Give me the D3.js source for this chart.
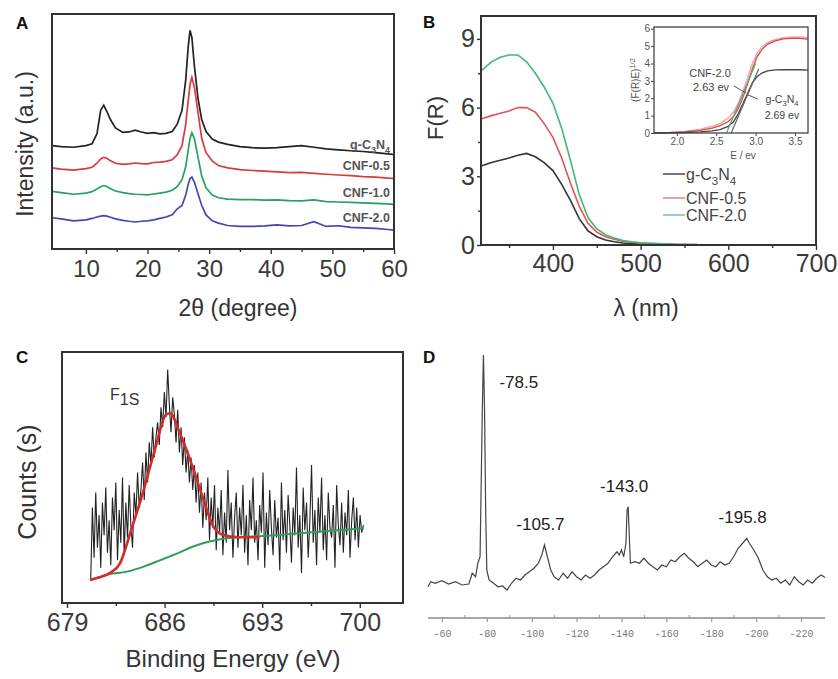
<!DOCTYPE html>
<html><head><meta charset="utf-8">
<script src="https://cdn.jsdelivr.net/npm/d3@7"></script>
<style>body{margin:0;background:#fff}svg{display:block}</style>
</head><body><svg id="chart"></svg>
<script>
// ===== Panel A: XRD =====
const xrdAngle = [4.5,6,8,10,11,11.8,12.4,12.9,13.4,14,14.8,16,17,18,19,20,21,22,23,24,24.8,25.6,26.2,26.6,26.9,27.2,27.6,28.2,28.8,29.5,30.5,31.5,33,35,37,39,41,43,45,47,49,51,53,55,57,59,60];
const xrdGC3N4 = [44,43.6,43.3,44,44.8,49,59,61.2,58.5,55,51.5,49.6,49.8,50.6,49.8,49.2,49.5,49,49.2,50,53,59,72,86,93,90,78,64,55,50,46.8,45.5,44.5,43.6,43.1,42.9,43.1,43.6,44,43.3,42.6,42.2,41.8,41.5,41,40.5,40.2];
const xrdCNF05 = [34.5,34,33.6,34.2,34.8,36.5,38.3,39,38.6,37.5,36.5,36,36.2,36.6,36.3,36.2,36.8,37,37.3,38,40,44,53,63,70,73,69,58,47,41,37.5,35.5,34.5,33.8,33.4,33.1,32.8,32.5,32.6,32.2,31.8,31.5,31.2,30.8,30.6,30.2,30];
const xrdCNF10 = [24.5,24,23.3,23.8,24.4,25.5,26.5,27,26.6,25.6,24.7,24,23.6,23.3,23.2,23,23.4,23.8,24.2,25,26.5,29.5,35,42,47,49.5,47,39,31,26,23,21.8,21.2,21,21,20.8,20.9,20.6,20.5,20.9,20.2,20,19.8,19.6,19.4,19.2,19];
const xrdCNF20 = [13.3,12.8,12,12.4,13,13.6,14,14.2,14,13.5,12.8,12.2,11.8,11.5,11.8,12,12.4,13,13.6,14.6,17,18.5,23,27.5,30,30.6,28.5,23.5,18.5,14.5,12,11,10,9.6,9.6,9.8,10.3,9.8,10,11.6,9.6,9.9,9.2,9,8.8,8.3,8];
const xrdTicks = [10,20,30,40,50,60];
const xrdMinor = [15,25,35,45,55];

// ===== Panel B: DRS =====
const drsLambda = [318,330,340,350,360,370,380,390,400,410,420,430,440,450,460,470,480,490,500,520,540,565];
const drsGC3N4 = [3.45,3.6,3.7,3.8,3.92,4.0,3.85,3.6,3.25,2.65,1.95,1.15,0.62,0.36,0.22,0.14,0.09,0.06,0.04,0.02,0.01,0.01];
const drsCNF05 = [5.5,5.65,5.75,5.85,6.0,6.0,5.8,5.3,4.7,3.8,2.7,1.7,0.95,0.56,0.36,0.25,0.17,0.12,0.08,0.05,0.03,0.02];
const drsCNF20 = [7.6,8.0,8.2,8.3,8.3,8.0,7.5,6.9,6.2,5.1,3.7,2.2,1.2,0.7,0.45,0.3,0.2,0.14,0.1,0.06,0.03,0.02];
const drsXTicks = [400,500,600,700];
const drsXMinor = [350,450,550,650];
const drsYTicks = [0,3,6,9];
const drsYMinor = [1.5,4.5,7.5];
// inset (Tauc)
const taucE = [1.71,1.9,2.1,2.3,2.45,2.55,2.65,2.72,2.78,2.84,2.9,2.96,3.02,3.08,3.15,3.25,3.35,3.45,3.55,3.665];
const taucGC3N4 = [0,0.01,0.03,0.07,0.12,0.2,0.38,0.65,1.1,1.7,2.3,2.9,3.25,3.45,3.58,3.63,3.64,3.64,3.64,3.62];
const taucCNF05 = [0,0.02,0.06,0.15,0.28,0.42,0.65,0.95,1.4,2.05,2.85,3.7,4.4,4.8,5.1,5.3,5.42,5.45,5.45,5.4];
const taucCNF20 = [0,0.03,0.09,0.22,0.38,0.55,0.85,1.2,1.7,2.4,3.2,4.0,4.6,4.95,5.2,5.38,5.48,5.52,5.52,5.48];
const tangentCNF20 = [[2.63,0],[3.0,4.0]];
const tangentGC3N4 = [[2.69,0],[3.04,3.7]];
const taucXTicks = [2.0,2.5,3.0,3.5];
const taucYTicks = [0,1,2,3,4,5,6];

// ===== Panel C: XPS F1s =====
const xpsStart = 680.7, xpsStep = 0.12;
const xpsCounts = [
 9,38,18,44,22,35,14,40,27,46,
 20,33,15,42,29,48,17,37,24,50,
 19,40,26,47,31,22,44,35,52,38,
 45,56,41,60,48,64,55,70,58,66,
 72,63,78,70,84,74,93,79,68,82,
 75,64,77,60,70,55,66,52,61,48,
 58,45,55,40,52,36,48,30,44,33,
 50,25,42,30,47,21,38,28,45,19,
 36,24,53,29,40,18,34,44,22,38,
 27,47,20,35,15,41,29,50,24,33,
 17,39,28,52,14,36,23,45,30,19,
 41,26,34,13,48,25,37,20,43,31,
 16,38,27,54,22,35,12,46,29,40,
 18,33,55,24,37,15,42,28,50,21,
 35,17,44,30,26,39,14,47,31,23,
 40,20,36,27,45,18,33,42,25,38,
 22,35,28,31];
const xpsFitE = [680.65,681.5,682.1,682.8,683.6,684.5,685.3,686.1,686.4,687.1,688.0,688.8,689.5,690.2,691.4,692.8];
const xpsFit = [9.2,10.5,12,15.8,29,45,61,75,75.6,67.6,54.3,41,30.4,27.1,26.2,26.2];
const xpsBgE = [680.65,682,683.3,684.5,685.7,687,688,689,690,691.4,692.8,694.5,695.7,697,698.5,700.3];
const xpsBg = [9.2,11.5,12.5,14.5,17.1,20,22.4,24.2,25.4,26.3,26.6,27.2,27.8,28.4,29,29.8];
const xpsTicks = [679,686,693,700];
const xpsMinor = [682.5,689.5,696.5];

// ===== Panel D: 19F NMR =====
const nmrPpm = [-53.8,-55,-57,-60,-63,-66,-69,-72,-73.5,-75,-76,-77,-78,-78.5,-79,-79.5,-80,-81,-83,-85,-87,-89,-91,-93,-95,-97,-99,-101,-103,-104.5,-105.7,-107,-108.5,-110,-112,-114,-116,-118,-120,-122,-124,-126,-128,-130,-132,-134,-136,-138,-139,-140,-141,-142,-142.5,-143,-143.5,-144,-146,-148,-150,-152,-154,-156,-158,-160,-162,-164,-166,-168,-170,-172,-174,-176,-178,-180,-182,-184,-186,-188,-190,-192,-194,-195.8,-197,-199,-201,-203,-205,-207,-209,-211,-213,-215,-217,-219,-221,-223,-225,-227,-229,-230.7];
const nmrInt = [5.3,7.3,6.7,7.7,6.4,7.3,6,6.4,10.7,9.3,14.7,17.3,76,98,76,36,12,8,6.7,5.3,5.6,4,6.7,8.7,8,10,11.3,12.7,14.7,18,22,17.3,12,9.3,8,10.7,8.7,11.3,9.3,8,10,8.7,10,12,13.3,14.7,17.3,19.3,18,20,17.3,22.7,36,37.3,25.3,14.7,15.3,14.7,16.7,14.7,13.3,12,14,13.3,16,15.3,17.3,18.7,16.7,15.3,13.3,14.7,16,14,13.3,15.3,14,14.7,17.3,20.7,22.7,24.7,22.7,20,16.7,12,9.3,8,8.7,6.7,8,6,9.3,7.3,6,8,6.7,8.7,10,9];
const nmrPeaks = [-78.5,-105.7,-143.0,-195.8];
const nmrPeakLabels = ["-78.5","-105.7","-143.0","-195.8"];
const nmrTicks = [-60,-80,-100,-120,-140,-160,-180,-200,-220];
const nmrMinor = [-70,-90,-110,-130,-150,-170,-190,-210];

// ================= drawing =================
const FONT = "'Liberation Sans', Arial, Helvetica, sans-serif";
const svg = d3.select("#chart").attr("width",838).attr("height",679).style("font-family",FONT);
svg.append("rect").attr("width",838).attr("height",679).attr("fill","#fff");

function styleAxis(g, fs, col, tcol, tw){
  g.attr("font-family",FONT).attr("font-size",fs);
  g.select(".domain").remove();
  g.selectAll(".tick line").attr("stroke",tcol||"#333").attr("stroke-width",tw||1.4);
  g.selectAll(".tick text").attr("fill",col);
  return g;
}
function frame(xs, ys, w, col){
  const [x0,x1]=xs.range(), [y0,y1]=ys.range();
  svg.append("rect").attr("x",Math.min(x0,x1)).attr("y",Math.min(y0,y1))
    .attr("width",Math.abs(x1-x0)).attr("height",Math.abs(y1-y0))
    .attr("fill","none").attr("stroke",col).attr("stroke-width",w);
}
function rich(parent,x,y,parts,fs,anchor,fill,weight){
  const t=parent.append("text").attr("x",x).attr("y",y).attr("font-size",fs)
    .attr("fill",fill).attr("text-anchor",anchor||"start").attr("font-weight",weight||"normal");
  let cur=0;
  parts.forEach(([s,sub])=>{const off=sub?fs*0.3:0;
    t.append("tspan").attr("dy",off-cur).attr("font-size",sub?fs*0.72:fs).text(s);cur=off;});
  return t;
}
function panelLabel(t,x,y){svg.append("text").attr("x",x).attr("y",y).attr("font-size",17)
  .attr("font-weight","bold").attr("fill","#111").text(t);}

// ---------- A ----------
const ax = d3.scaleLinear().domain([4.5,60]).range([52,394]);
const ay = d3.scaleLinear().domain([0,100]).range([249,14]);
const lineA = d3.line().x((d,i)=>ax(xrdAngle[i])).y(d=>ay(d));
[[xrdGC3N4,"#222"],[xrdCNF05,"#d93a3a"],[xrdCNF10,"#27a060"],[xrdCNF20,"#4646b0"]].forEach(([v,c])=>{
  svg.append("path").attr("d",lineA(v)).attr("fill","none").attr("stroke",c).attr("stroke-width",1.7);
});
styleAxis(svg.append("g").attr("transform","translate(0,249)")
  .call(d3.axisBottom(ax).tickValues(xrdMinor).tickSize(3).tickFormat("")),24,"#3a3a3a");
styleAxis(svg.append("g").attr("transform","translate(0,249)")
  .call(d3.axisBottom(ax).tickValues(xrdTicks).tickSize(5).tickPadding(6).tickFormat(d3.format("d"))),24,"#3a3a3a");
frame(ax,ay,2,"#333");
const aLab = [[["g-C",0],["3",1],["N",0],["4",1]],[["CNF-0.5",0]],[["CNF-1.0",0]],[["CNF-2.0",0]]];
const aLabY = [149,170,197,222];
aLab.forEach((p,i)=>rich(svg,390,aLabY[i],p,12.5,"end","#555","bold"));
svg.append("text").attr("transform","translate(33,144) rotate(-90)").attr("text-anchor","middle")
  .attr("font-size",23).attr("fill","#333").text("Intensity (a.u.)");
svg.append("text").attr("x",238).attr("y",316).attr("text-anchor","middle")
  .attr("font-size",23).attr("fill","#333").text("2θ (degree)");
panelLabel("A",16,29);

// ---------- B ----------
const bx = d3.scaleLinear().domain([318,700]).range([481,816]);
const by = d3.scaleLinear().domain([0,10]).range([245,16]);
const lineB = d3.line().x((d,i)=>bx(drsLambda[i])).y(d=>by(d));
const bSeries = [[drsGC3N4,"#333"],[drsCNF05,"#e05555"],[drsCNF20,"#3fb87a"]];
bSeries.forEach(([v,c])=>svg.append("path").attr("d",lineB(v)).attr("fill","none").attr("stroke",c).attr("stroke-width",1.6));
styleAxis(svg.append("g").attr("transform","translate(0,245)")
  .call(d3.axisBottom(bx).tickValues(drsXMinor).tickSize(3).tickFormat("")),25,"#3a3a3a");
styleAxis(svg.append("g").attr("transform","translate(0,245)")
  .call(d3.axisBottom(bx).tickValues(drsXTicks).tickSize(5).tickPadding(4).tickFormat(d3.format("d"))),25,"#3a3a3a");
styleAxis(svg.append("g").attr("transform","translate(481,0)")
  .call(d3.axisLeft(by).tickValues(drsYMinor).tickSize(3).tickFormat("")),25,"#3a3a3a");
styleAxis(svg.append("g").attr("transform","translate(481,0)")
  .call(d3.axisLeft(by).tickValues(drsYTicks).tickSize(4).tickPadding(2).tickFormat(d3.format("d"))),25,"#3a3a3a");
frame(bx,by,2,"#333");
svg.append("text").attr("transform","translate(443,118) rotate(-90)").attr("text-anchor","middle")
  .attr("font-size",22).attr("fill","#333").text("F(R)");
svg.append("text").attr("x",646).attr("y",316).attr("text-anchor","middle")
  .attr("font-size",23).attr("fill","#333").text("λ (nm)");
// legend
const legY = [174,198,215];
const legNames = [[["g-C",0],["3",1],["N",0],["4",1]],[["CNF-0.5",0]],[["CNF-2.0",0]]];
const legCols = ["#555","#e38a8a","#7cc9a0"];
legNames.forEach((p,i)=>{
  svg.append("line").attr("x1",663).attr("x2",685).attr("y1",legY[i]).attr("y2",legY[i]).attr("stroke",legCols[i]).attr("stroke-width",1.6);
  rich(svg,686,legY[i]+6,p,16,"start","#444");
});
panelLabel("B",423,28);

// inset
const ix = d3.scaleLinear().domain([1.71,3.665]).range([654,808]);
const iy = d3.scaleLinear().domain([0,6.1]).range([133,27]);
svg.append("rect").attr("x",654).attr("y",27).attr("width",154).attr("height",106).attr("fill","#fff");
const lineI = d3.line().x((d,i)=>ix(taucE[i])).y(d=>iy(d));
[[taucCNF20,"#eeaaaa",1.6],[taucCNF05,"#d84848",1.3],[taucGC3N4,"#444",1.3]].forEach(([v,c,w])=>
  svg.append("path").attr("d",lineI(v)).attr("fill","none").attr("stroke",c).attr("stroke-width",w));
const lineT = d3.line().x(d=>ix(d[0])).y(d=>iy(d[1]));
svg.append("path").attr("d",lineT(tangentCNF20)).attr("stroke","#5aa878").attr("stroke-width",1.2).attr("fill","none");
svg.append("path").attr("d",lineT(tangentGC3N4)).attr("stroke","#666").attr("stroke-width",1.2).attr("fill","none");
styleAxis(svg.append("g").attr("transform","translate(0,133)")
  .call(d3.axisBottom(ix).tickValues(taucXTicks).tickSize(3).tickPadding(2).tickFormat(d3.format(".1f"))),10,"#555","#444",1);
styleAxis(svg.append("g").attr("transform","translate(654,0)")
  .call(d3.axisLeft(iy).tickValues(taucYTicks).tickSize(3).tickPadding(1).tickFormat(d3.format("d"))),10,"#555","#444",1);
frame(ix,iy,1.3,"#444");
svg.append("text").attr("x",743).attr("y",159).attr("text-anchor","middle").attr("font-size",10).attr("fill","#555").text("E / ev");
const yl = svg.append("text").attr("transform","translate(639,80) rotate(-90)").attr("text-anchor","middle").attr("font-size",10).attr("fill","#555");
yl.append("tspan").text("(F(R)E)");
yl.append("tspan").attr("dy",-4).attr("font-size",7.5).text("1/2");
svg.append("text").attr("x",710).attr("y",77).attr("text-anchor","middle").attr("font-size",11).attr("fill","#444").text("CNF-2.0");
svg.append("text").attr("x",711).attr("y",91).attr("text-anchor","middle").attr("font-size",11).attr("fill","#444").text("2.63 ev");
rich(svg,782,103,[["g-C",0],["3",1],["N",0],["4",1]],10.5,"middle","#444");
svg.append("text").attr("x",782).attr("y",119).attr("text-anchor","middle").attr("font-size",10.5).attr("fill","#444").text("2.69 ev");
svg.append("line").attr("x1",734).attr("y1",86).attr("x2",746).attr("y2",93).attr("stroke","#555").attr("stroke-width",1);
svg.append("line").attr("x1",758).attr("y1",99).attr("x2",748).attr("y2",95).attr("stroke","#555").attr("stroke-width",1);

// ---------- C ----------
const cx = d3.scaleLinear().domain([678.64,703.1]).range([62,403]);
const cy = d3.scaleLinear().domain([0,100]).range([603,352]);
const lineC = d3.line().x((d,i)=>cx(xpsStart+xpsStep*i)).y(d=>cy(d));
svg.append("path").attr("d",lineC(xpsCounts)).attr("fill","none").attr("stroke","#222").attr("stroke-width",1.1);
svg.append("path").attr("d",d3.line().x((d,i)=>cx(xpsBgE[i])).y(d=>cy(d)).curve(d3.curveMonotoneX)(xpsBg))
  .attr("fill","none").attr("stroke","#2e9e5a").attr("stroke-width",2);
svg.append("path").attr("d",d3.line().x((d,i)=>cx(xpsFitE[i])).y(d=>cy(d)).curve(d3.curveMonotoneX)(xpsFit))
  .attr("fill","none").attr("stroke","#d42a2a").attr("stroke-width",2.6);
styleAxis(svg.append("g").attr("transform","translate(0,603)")
  .call(d3.axisBottom(cx).tickValues(xpsMinor).tickSize(3).tickFormat("")),25,"#3a3a3a");
styleAxis(svg.append("g").attr("transform","translate(0,603)")
  .call(d3.axisBottom(cx).tickValues(xpsTicks).tickSize(5).tickPadding(5).tickFormat(d3.format("d"))),25,"#3a3a3a");
frame(cx,cy,2,"#333");
svg.append("text").attr("transform","translate(36,482) rotate(-90)").attr("text-anchor","middle")
  .attr("font-size",25).attr("fill","#333").text("Counts (s)");
svg.append("text").attr("x",233).attr("y",667).attr("text-anchor","middle")
  .attr("font-size",24).attr("fill","#333").text("Binding Energy (eV)");
const f1s = svg.append("text").attr("x",110).attr("y",400).attr("font-size",16).attr("fill","#333");
f1s.append("tspan").text("F");
f1s.append("tspan").attr("dy",5).attr("font-size",16).text("1S");
panelLabel("C",16,363);

// ---------- D ----------
const dx = d3.scaleLinear().domain([-53.8,-230.7]).range([428,825]);
const dy = d3.scaleLinear().domain([0,100]).range([600,350]);
svg.append("path").attr("d",d3.line().x((d,i)=>dx(nmrPpm[i])).y(d=>dy(d))(nmrInt))
  .attr("fill","none").attr("stroke","#444").attr("stroke-width",1.2);
svg.append("line").attr("x1",dx.range()[0]).attr("x2",dx.range()[1]).attr("y1",618).attr("y2",618)
  .attr("stroke","#888").attr("stroke-width",1.6);
styleAxis(svg.append("g").attr("transform","translate(0,618)")
  .call(d3.axisBottom(dx).tickValues(nmrMinor).tickSize(-3).tickFormat("")),10,"#777","#999",1);
styleAxis(svg.append("g").attr("transform","translate(0,618)")
  .call(d3.axisBottom(dx).tickValues(nmrTicks).tickSize(4).tickPadding(8).tickFormat(d=>String(d))),10,"#777","#999",1.2)
  .selectAll(".tick text").attr("font-family","'Liberation Mono','DejaVu Sans Mono',monospace");
const peakTop = p => dy(d3.max(nmrInt.filter((v,i)=>Math.abs(nmrPpm[i]-p)<1.5)));
nmrPeaks.forEach((p,i)=>{
  const first = i===0;
  svg.append("text").attr("x",first?dx(p)+16:dx(p)-4).attr("y",first?peakTop(p)+33:peakTop(p)-15)
    .attr("text-anchor",first?"start":"middle").attr("font-size",17).attr("fill","#222").text(nmrPeakLabels[i]);
});
panelLabel("D",423,363);
</script></body></html>
